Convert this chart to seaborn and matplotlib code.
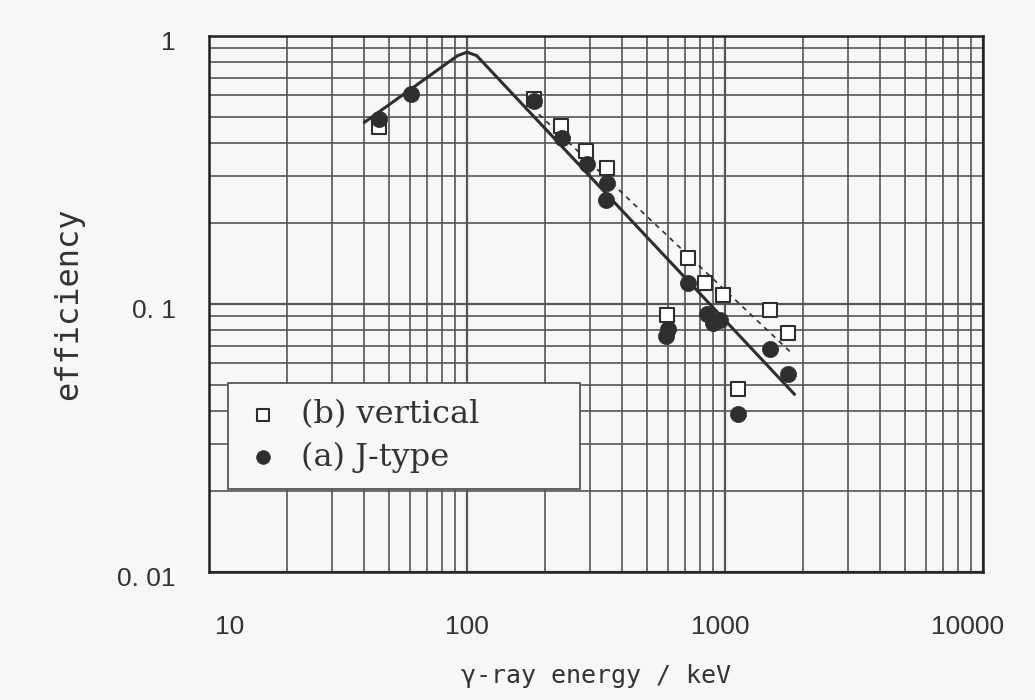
import matplotlib
matplotlib.use("Agg")
import matplotlib.pyplot as plt
import matplotlib.ticker as mticker
import matplotlib.transforms as mtransforms
import numpy as np
import pandas as pd
import seaborn as sns

# Measured detection efficiency, J-type arrangement (filled circles)
jtype_energy = [45.7, 60.8, 182, 234, 293, 348, 345, 590, 600, 716, 850, 900, 960, 1120, 1490, 1750]
jtype_eff = [0.489, 0.606, 0.571, 0.418, 0.332, 0.284, 0.245, 0.076, 0.081, 0.120, 0.092, 0.085, 0.087, 0.039, 0.068, 0.055]

# Measured detection efficiency, vertical arrangement (open squares)
vert_energy = [45.4, 182, 232, 290, 350, 598, 716, 834, 979, 1120, 1490, 1750]
vert_eff = [0.456, 0.58, 0.46, 0.371, 0.323, 0.091, 0.149, 0.120, 0.108, 0.048, 0.095, 0.078]

# Fitted efficiency curves
fit_j_energy = [40, 92, 100, 109, 1860]
fit_j_eff = [0.476, 0.845, 0.87, 0.845, 0.046]
fit_v_energy = [190, 1830]
fit_v_eff = [0.51, 0.065]

x_ticks = [10, 100, 1000, 10000]
x_ticklabels = ["10", "100", "1000", "10000"]
y_ticks = [0.01, 0.1, 1]
y_ticklabels = ["0. 01", "0. 1", "1"]

sns.set_theme(style="white")
plt.rcParams["font.family"] = ["DejaVu Sans"]

paper = "#f7f7f5"
ink = "#2e2e2e"
grid_col = "#555555"

fig = plt.figure(figsize=(10.35, 7.0), dpi=100, facecolor=paper)
ax = fig.add_axes([209 / 1035, 1 - 572 / 700, 774 / 1035, 536 / 700])
ax.set_facecolor(paper)
ax.set_xscale("log")
ax.set_yscale("log")
ax.set_xlim(10, 10000)
ax.set_ylim(0.01, 1)

# log-log paper grid
ax.xaxis.set_minor_locator(mticker.LogLocator(base=10, subs=np.arange(2, 10)))
ax.yaxis.set_minor_locator(mticker.LogLocator(base=10, subs=np.arange(2, 10)))
ax.grid(True, which="major", color=grid_col, lw=1.6, zorder=0)
ax.grid(True, which="minor", color=grid_col, lw=1.2, zorder=0)
ax.set_axisbelow(True)

df_jfit = pd.DataFrame({"energy": fit_j_energy, "eff": fit_j_eff})
df_vfit = pd.DataFrame({"energy": fit_v_energy, "eff": fit_v_eff})
sns.lineplot(data=df_jfit, x="energy", y="eff", ax=ax, color=ink, lw=2.2,
             sort=False, estimator=None, zorder=3)
sns.lineplot(data=df_vfit, x="energy", y="eff", ax=ax, color=ink, lw=1.2,
             sort=False, estimator=None, zorder=3, dashes=False)
ax.lines[-1].set_linestyle((0, (3, 3)))

df_v = pd.DataFrame({"energy": vert_energy, "eff": vert_eff})
df_j = pd.DataFrame({"energy": jtype_energy, "eff": jtype_eff})
sns.scatterplot(data=df_v, x="energy", y="eff", ax=ax, marker="s", s=105,
                facecolor="white", edgecolor=ink, linewidth=1.5, zorder=4,
                label="(b) vertical")
sns.scatterplot(data=df_j, x="energy", y="eff", ax=ax, marker="o", s=135,
                color=ink, edgecolor=ink, linewidth=0.5, zorder=5,
                label="(a) J-type")

for sp in ax.spines.values():
    sp.set_color("#222222")
    sp.set_linewidth(1.8)

ax.set_xticks(x_ticks)
ax.set_xticklabels(x_ticklabels)
ax.set_yticks(y_ticks)
ax.set_yticklabels(y_ticklabels)
ax.tick_params(axis="both", which="both", length=0)
ax.tick_params(axis="x", pad=31, labelsize=19, labelcolor="#333333")
ax.tick_params(axis="y", pad=24, labelsize=19, labelcolor="#333333")
for t in ax.get_xticklabels() + ax.get_yticklabels():
    t.set_fontfamily("Liberation Sans")

# hand-lettered label placement of the original sheet
x_shift_px = [21, 0, -5, -15]
for t, dx in zip(ax.get_xticklabels(), x_shift_px):
    t.set_transform(t.get_transform() + mtransforms.ScaledTranslation(dx / 100, 0, fig.dpi_scale_trans))
for t in ax.get_yticklabels():
    t.set_transform(t.get_transform() + mtransforms.ScaledTranslation(0, -5 / 100, fig.dpi_scale_trans))

ax.set_xlabel("γ-ray energy / keV", fontsize=18, family="DejaVu Sans Mono",
              color="#333333", labelpad=18)
ax.set_ylabel("efficiency", fontsize=23, family="DejaVu Sans Mono",
              color="#333333", labelpad=24)

leg = ax.legend(loc="upper left", bbox_to_anchor=(0.0245, 0.162, 0.455, 0.19),
                mode="expand", frameon=True, fancybox=False, framealpha=1,
                facecolor=paper, edgecolor="#555555", markerscale=0.85,
                handlelength=1.2, handletextpad=0.6, borderpad=0.5,
                labelspacing=0.35, borderaxespad=0,
                prop={"family": "DejaVu Serif", "size": 23})
leg.get_frame().set_linewidth(1.3)
for t in leg.get_texts():
    t.set_color("#333333")

fig.savefig("out.png", dpi=100, facecolor=paper)
